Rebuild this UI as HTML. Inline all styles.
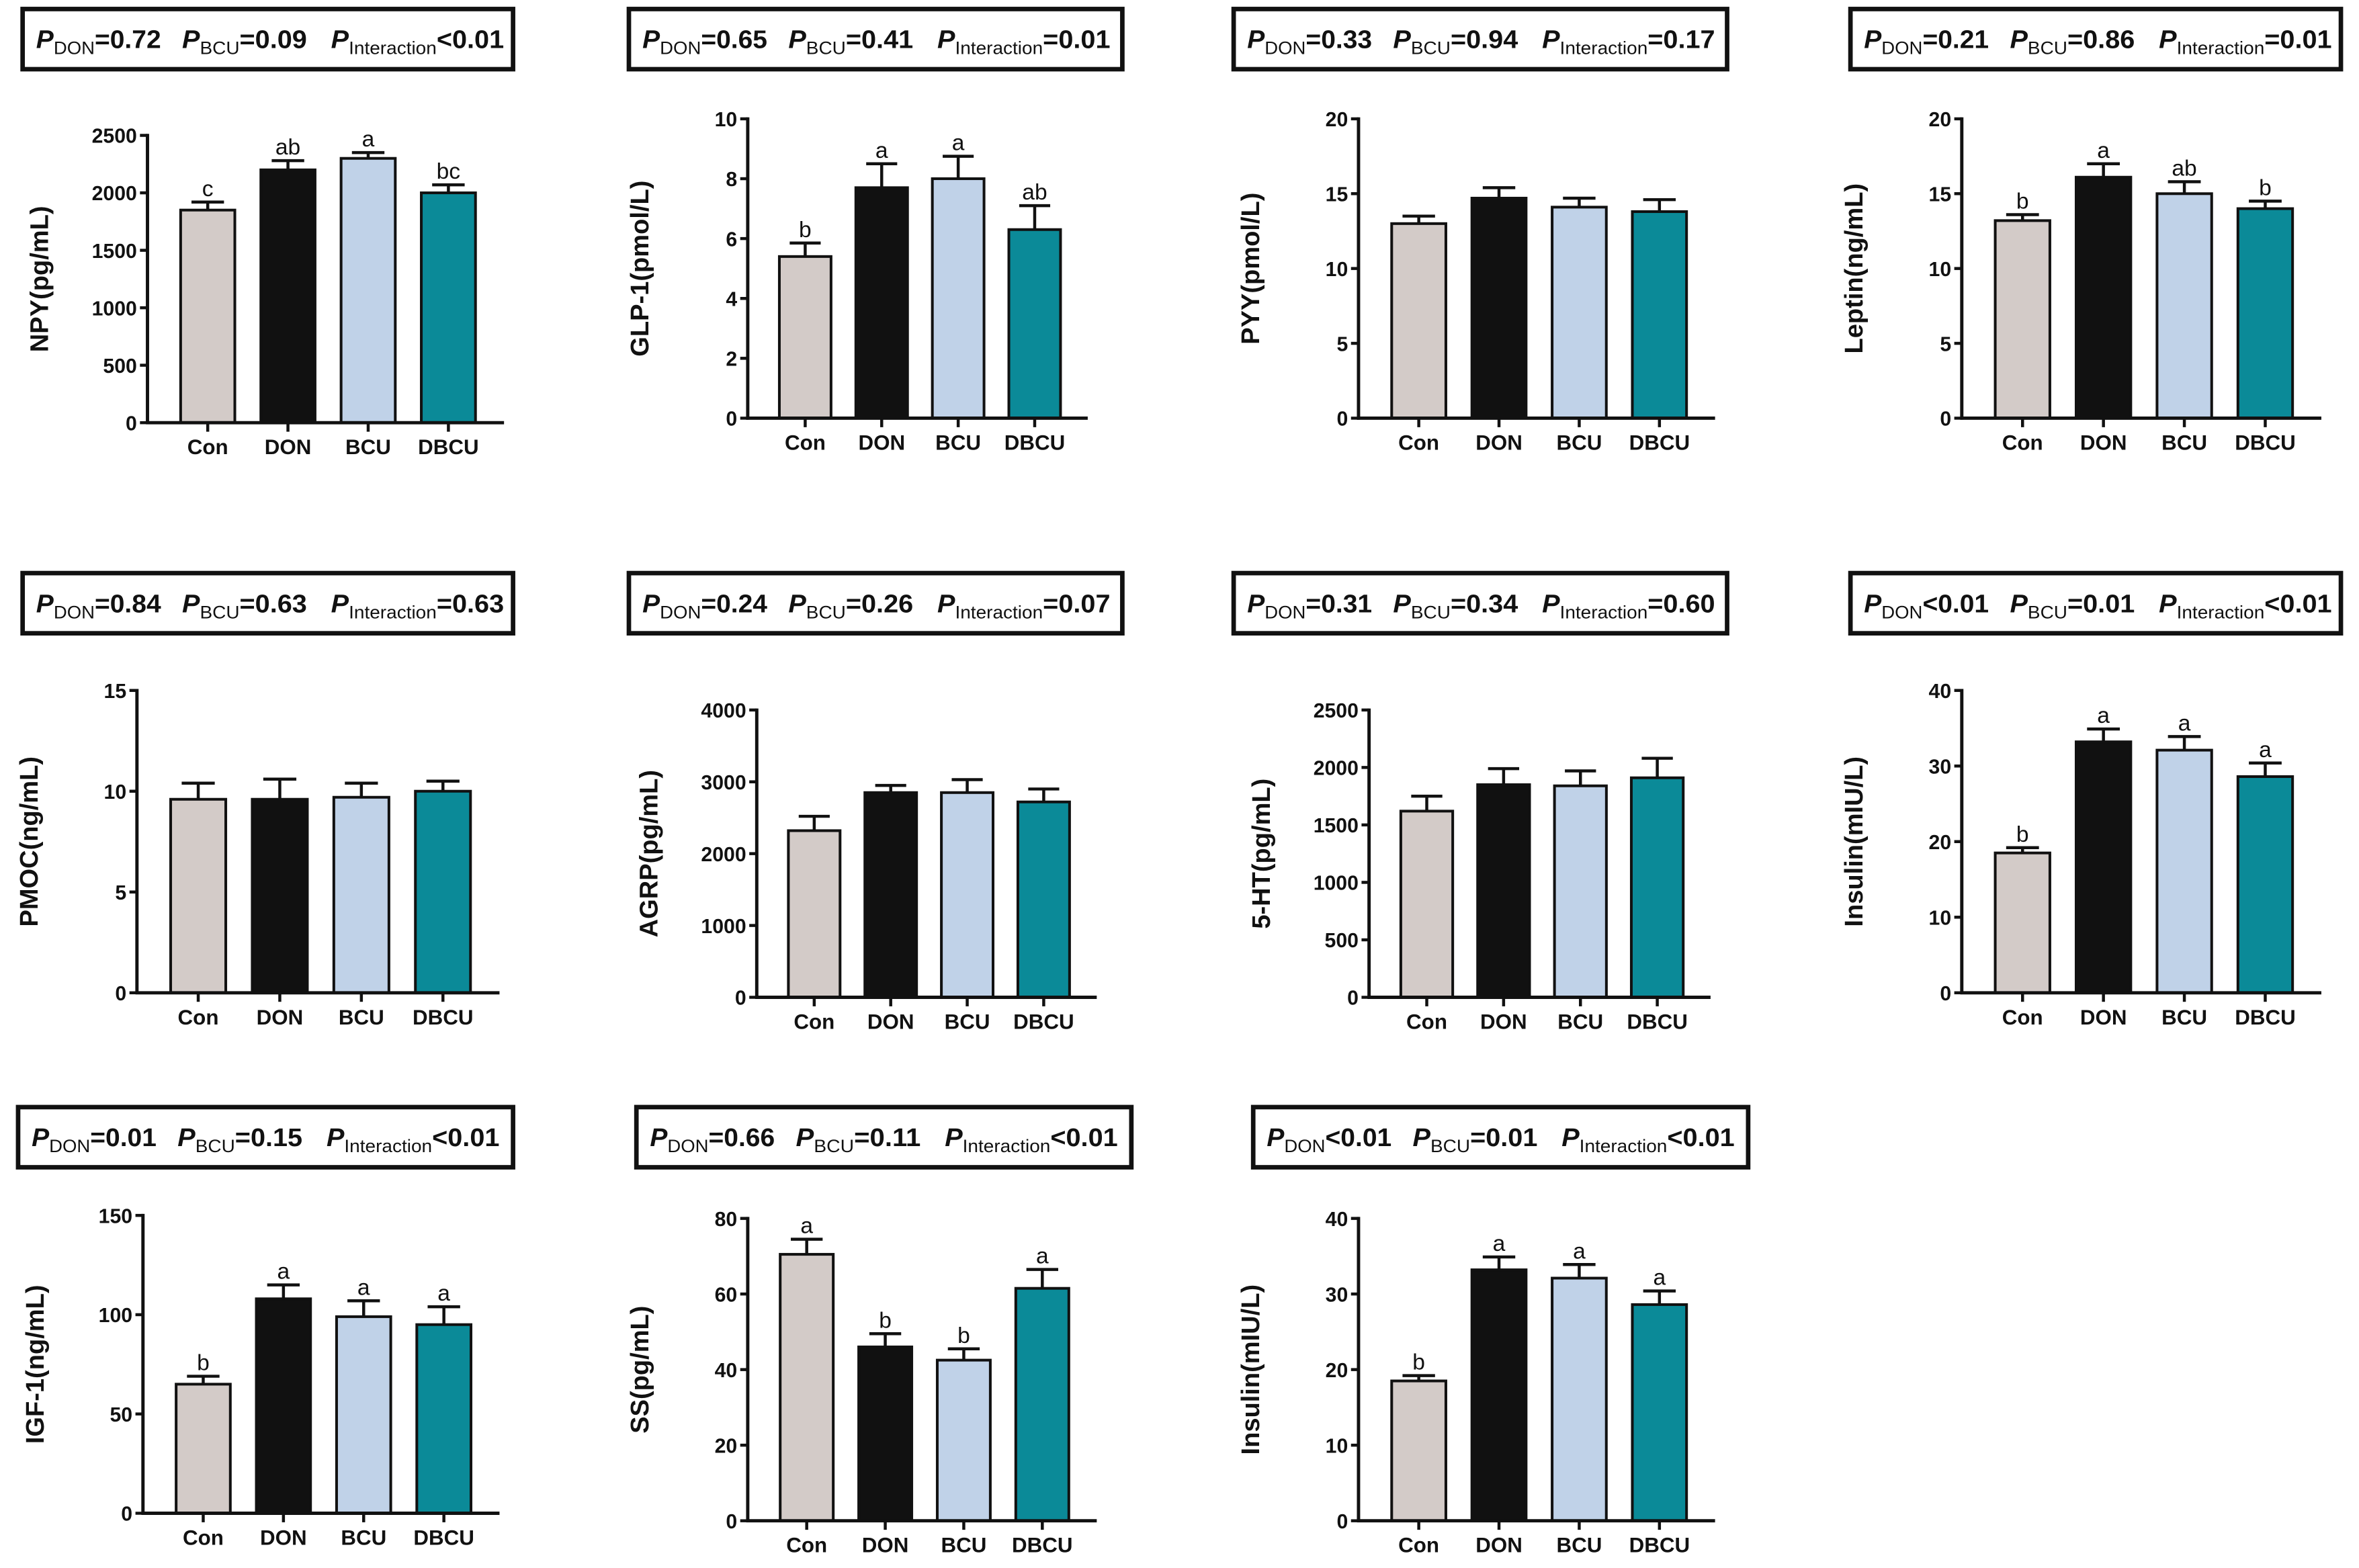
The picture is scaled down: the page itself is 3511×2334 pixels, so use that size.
<!DOCTYPE html>
<html><head><meta charset="utf-8"><style>
html,body{margin:0;padding:0;background:#fff;}
svg{display:block;font-family:"Liberation Sans",Arial,sans-serif;}
</style></head><body>
<svg id="fig" width="3511" height="2334" viewBox="0 0 1568 1042.4" xmlns="http://www.w3.org/2000/svg"></svg>
<script>
const categories = ["Con","DON","BCU","DBCU"];
const colors = ["#d3cbc8","#111111","#c0d2e8","#0b8a98"];

const npyValues = [1850,2200,2300,2000];
const npyErrors = [70,80,50,70];
const npyLetters = ["c","ab","a","bc"];
const npyTicks = [0,500,1000,1500,2000,2500];

const glpValues = [5.4,7.7,8.0,6.3];
const glpErrors = [0.45,0.8,0.75,0.8];
const glpLetters = ["b","a","a","ab"];
const glpTicks = [0,2,4,6,8,10];

const pyyValues = [13.0,14.7,14.1,13.8];
const pyyErrors = [0.5,0.7,0.6,0.8];
const pyyLetters = ["","","",""];
const pyyTicks = [0,5,10,15,20];

const leptinValues = [13.2,16.1,15.0,14.0];
const leptinErrors = [0.4,0.9,0.8,0.5];
const leptinLetters = ["b","a","ab","b"];
const leptinTicks = [0,5,10,15,20];

const pmocValues = [9.6,9.6,9.7,10.0];
const pmocErrors = [0.8,1.0,0.7,0.5];
const pmocLetters = ["","","",""];
const pmocTicks = [0,5,10,15];

const agrpValues = [2320,2850,2850,2720];
const agrpErrors = [200,100,180,180];
const agrpLetters = ["","","",""];
const agrpTicks = [0,1000,2000,3000,4000];

const htValues = [1620,1850,1840,1910];
const htErrors = [130,140,130,170];
const htLetters = ["","","",""];
const htTicks = [0,500,1000,1500,2000,2500];

const insValues = [18.5,33.2,32.1,28.6];
const insErrors = [0.7,1.7,1.8,1.8];
const insLetters = ["b","a","a","a"];
const insTicks = [0,10,20,30,40];

const igfValues = [65,108,99,95];
const igfErrors = [4,7,8,9];
const igfLetters = ["b","a","a","a"];
const igfTicks = [0,50,100,150];

const ssValues = [70.5,46,42.5,61.5];
const ssErrors = [4,3.5,3,5];
const ssLetters = ["a","b","b","a"];
const ssTicks = [0,20,40,60,80];

const pDon = ["=0.72","=0.65","=0.33","=0.21","=0.84","=0.24","=0.31","<0.01","=0.01","=0.66","<0.01"];
const pBcu = ["=0.09","=0.41","=0.94","=0.86","=0.63","=0.26","=0.34","=0.01","=0.15","=0.11","=0.01"];
const pInt = ["<0.01","=0.01","=0.17","=0.01","=0.63","=0.07","=0.60","<0.01","<0.01","<0.01","<0.01"];

const NS="http://www.w3.org/2000/svg";
const svg=document.getElementById('fig');
function mk(tag,attrs,parent){const e=document.createElementNS(NS,tag);for(const k in attrs)e.setAttribute(k,attrs[k]);(parent||svg).appendChild(e);return e;}

const panels=[
 {id:"npy",title:"NPY(pg/mL)",v:npyValues,e:npyErrors,l:npyLetters,t:npyTicks,box:[15,6,326],ax:[98,90,281,335]},
 {id:"glp1",title:"GLP-1(pmol/L)",v:glpValues,e:glpErrors,l:glpLetters,t:glpTicks,box:[418,6,328],ax:[497,79,278,723]},
 {id:"pyy",title:"PYY(pmol/L)",v:pyyValues,e:pyyErrors,l:pyyLetters,t:pyyTicks,box:[820,6,328],ax:[903,79,278,1140]},
 {id:"leptin",title:"Leptin(ng/mL)",v:leptinValues,e:leptinErrors,l:leptinLetters,t:leptinTicks,box:[1230,6,326],ax:[1304,79,278,1543]},
 {id:"pmoc",title:"PMOC(ng/mL)",v:pmocValues,e:pmocErrors,l:pmocLetters,t:pmocTicks,box:[15,381,326],ax:[91,459,660,332]},
 {id:"agrp",title:"AGRP(pg/mL)",v:agrpValues,e:agrpErrors,l:agrpLetters,t:agrpTicks,box:[418,381,328],ax:[503,472,663,729]},
 {id:"5ht",title:"5-HT(pg/mL)",v:htValues,e:htErrors,l:htLetters,t:htTicks,box:[820,381,328],ax:[910,472,663,1137]},
 {id:"insulin",title:"Insulin(mIU/L)",v:insValues,e:insErrors,l:insLetters,t:insTicks,box:[1230,381,326],ax:[1304,459,660,1543]},
 {id:"igf1",title:"IGF-1(ng/mL)",v:igfValues,e:igfErrors,l:igfLetters,t:igfTicks,box:[12,736,329],ax:[95,808,1006,332]},
 {id:"ss",title:"SS(pg/mL)",v:ssValues,e:ssErrors,l:ssLetters,t:ssTicks,box:[423,736,329],ax:[497,810,1011,729]},
 {id:"insulin2",title:"Insulin(mIU/L)",v:insValues,e:insErrors,l:insLetters,t:insTicks,box:[833,736,329],ax:[903,810,1011,1140]}
];

panels.forEach((p,pi)=>{
 const g=mk('g',{});
 
 
 const [bx,by,bw]=p.box;
 const r=mk('rect',{x:bx,y:by,width:bw,height:40,fill:'#fff',stroke:'#111','stroke-width':3},g);
 
 
 const parts=[["P","DON",pDon[pi],9,83],["P","BCU",pBcu[pi],106,83],["P","Interaction",pInt[pi],205,115]];
 parts.forEach(pt=>{
  const tx=mk('text',{x:bx+pt[3],y:by+26,'font-size':17,'font-weight':'bold',fill:'#111',textLength:pt[4],lengthAdjust:'spacingAndGlyphs'},g);
  
  
  const a=mk('tspan',{'font-style':'italic'},tx);a.textContent=pt[0];
  const b=mk('tspan',{'font-size':12,'font-weight':'normal',dy:4},tx);b.textContent=pt[1];
  const c=mk('tspan',{dy:-4},tx);c.textContent=pt[2];
 });
 const [x0,yTop,y0,x1]=p.ax;
 const maxT=p.t[p.t.length-1];
 const yS=v=>y0-(v/maxT)*(y0-yTop);
 const L=x1-x0;
 const xC=i=>x0+L*(0.169+i*0.225);
 const bw2=L*0.152;
 p.v.forEach((v,i)=>{
  const yv=yS(v), ye=yS(v+p.e[i]);
  const el=mk('line',{x1:xC(i),x2:xC(i),y1:yv,y2:ye,stroke:'#111','stroke-width':2},g);
  
  
  const cap=mk('line',{x1:xC(i)-bw2*0.3,x2:xC(i)+bw2*0.3,y1:ye,y2:ye,stroke:'#111','stroke-width':2},g);
  
  
  const b=mk('rect',{x:xC(i)-bw2/2,y:yv,width:bw2,height:y0-yv,fill:colors[i],stroke:'#111','stroke-width':1.8},g);
  
  
  if(p.l[i]){
   const lt=mk('text',{x:xC(i),y:ye-4,'font-size':15,'text-anchor':'middle',fill:'#111'},g);
   lt.textContent=p.l[i];
   
   
  }
  const tk=mk('line',{x1:xC(i),x2:xC(i),y1:y0,y2:y0+6,stroke:'#111','stroke-width':2},g);
  
  
  const cl=mk('text',{x:xC(i),y:y0+21,'font-size':14,'font-weight':'bold','text-anchor':'middle',fill:'#111'},g);
  cl.textContent=categories[i];
  
  
 });
 const ya=mk('line',{x1:x0,x2:x0,y1:yTop-1,y2:y0+1,stroke:'#111','stroke-width':2.2},g);
 
 
 const xa=mk('line',{x1:x0-1,x2:x1,y1:y0,y2:y0,stroke:'#111','stroke-width':2.2},g);
 
 
 p.t.forEach(t=>{
  const yy=yS(t);
  const tl=mk('line',{x1:x0-5,x2:x0,y1:yy,y2:yy,stroke:'#111','stroke-width':2},g);
  
  
  const tt=mk('text',{x:x0-7,y:yy+5,'font-size':13.5,'font-weight':'bold','text-anchor':'end',fill:'#111'},g);
  tt.textContent=t;
  
  
 });
 const cy=(yTop+y0)/2;
 const yt=mk('text',{x:0,y:0,'font-size':17,'font-weight':'bold','text-anchor':'middle',fill:'#111',transform:`translate(${x0-66},${cy}) rotate(-90)`},g);
 yt.textContent=p.title;
 
 
});
</script>
</body></html>
